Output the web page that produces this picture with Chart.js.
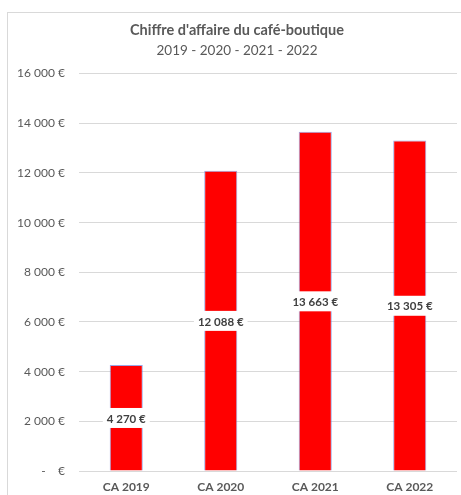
<!DOCTYPE html>
<html>
<head>
<meta charset="utf-8">
<script src="https://cdn.jsdelivr.net/npm/chart.js@4"></script>
<style>
  html, body { margin: 0; padding: 0; background: #fff; }
  #wrap { position: relative; width: 461px; height: 495px; }
  #frame { position: absolute; left: 7px; top: 12px; width: 470px; height: 500px; border: 1px solid #d9d9d9; }
  canvas { position: absolute; left: 0; top: 0; }
</style>
</head>
<body>
<div id="wrap">
  <div id="frame"></div>
  <canvas id="ca" width="461" height="495"></canvas>
</div>
<script>
// donnees
const categories = ["CA 2019", "CA 2020", "CA 2021", "CA 2022"];
const chiffres = [4270, 12088, 13663, 13305];
const yMax = 16000;
const yStep = 2000;

function euro(v) {
  if (v === 0) return "-    €";
  return v.toString().replace(/\B(?=(\d{3})+(?!\d))/g, " ") + " €";
}

// etiquettes au milieu des barres, fond blanc
const milieuLabels = {
  id: "milieuLabels",
  afterDatasetsDraw(chart) {
    const ctx = chart.ctx;
    const meta = chart.getDatasetMeta(0);
    const yScale = chart.scales.y;
    ctx.save();
    ctx.font = "bold 11.5px Lato, 'DejaVu Sans', sans-serif";
    ctx.textAlign = "center";
    ctx.textBaseline = "middle";
    meta.data.forEach((bar, i) => {
      const v = chiffres[i];
      const y = yScale.getPixelForValue(v / 2);
      const txt = euro(v);
      const w = ctx.measureText(txt).width;
      ctx.fillStyle = "#fff";
      ctx.fillRect(bar.x - w / 2 - 4, y - 10, w + 8, 20);
      ctx.fillStyle = "#404040";
      ctx.fillText(txt, bar.x, y + 1);
    });
    ctx.restore();
  }
};

new Chart(document.getElementById("ca"), {
  type: "bar",
  data: {
    labels: categories,
    datasets: [{
      data: chiffres,
      backgroundColor: "#ff0000",
      borderColor: "rgba(110,130,220,0.7)",
      borderWidth: 1,
      categoryPercentage: 1,
      barPercentage: 0.35
    }]
  },
  options: {
    responsive: false,
    animation: false,
    devicePixelRatio: 1,
    layout: { padding: { left: 17, right: 4, top: 0, bottom: 0 } },
    plugins: {
      legend: { display: false },
      tooltip: { enabled: false },
      title: {
        display: true,
        text: "Chiffre d'affaire du café-boutique",
        color: "#595959",
        font: { family: "Lato, 'DejaVu Sans', sans-serif", size: 14.5, weight: "bold" },
        padding: { top: 22, bottom: 3 }
      },
      subtitle: {
        display: true,
        text: "2019 - 2020 - 2021 - 2022",
        color: "#595959",
        font: { family: "Lato, 'DejaVu Sans', sans-serif", size: 13.5 },
        padding: { top: 0, bottom: 15 }
      }
    },
    scales: {
      x: {
        afterFit(scale) { scale.height = 24; },
        grid: { display: false, drawTicks: false },
        border: { display: false },
        ticks: {
          color: "#595959",
          padding: 9,
          font: { family: "Lato, 'DejaVu Sans', sans-serif", size: 12, weight: "bold" }
        }
      },
      y: {
        min: 0,
        max: yMax,
        afterFit(scale) { scale.width = 62; },
        grid: { color: "#d9d9d9", drawTicks: false },
        border: { display: false },
        ticks: {
          stepSize: yStep,
          padding: 14,
          color: "#595959",
          font: { family: "Lato, 'DejaVu Sans', sans-serif", size: 12 },
          callback: v => euro(v)
        }
      }
    }
  },
  plugins: [milieuLabels]
});
</script>
</body>
</html>
